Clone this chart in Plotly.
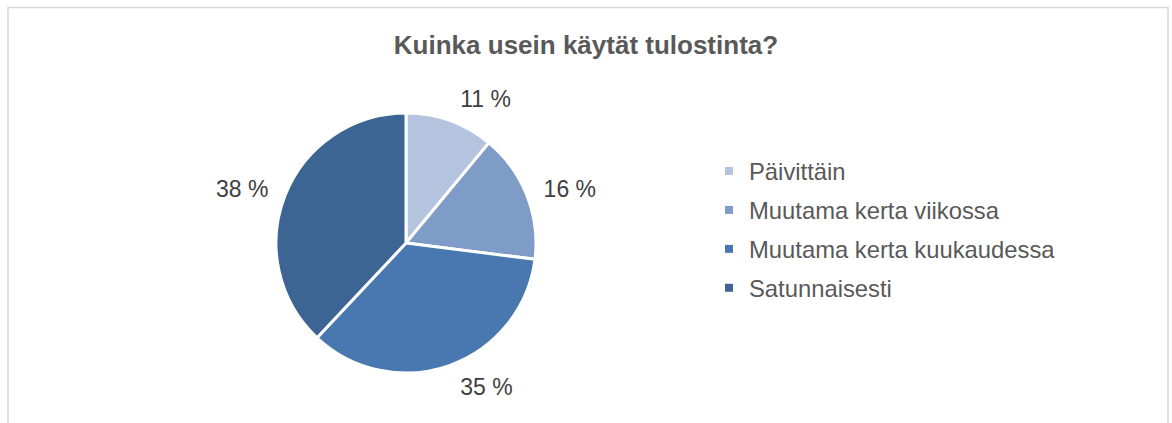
import plotly.graph_objects as go

categories = ["Päivittäin", "Muutama kerta viikossa", "Muutama kerta kuukaudessa", "Satunnaisesti"]
values = [11, 16, 35, 38]
colors = ["#B4C3DE", "#7F9CC8", "#4878AF", "#3D6593"]

W, H = 1172, 423
cx, cy, r = 406, 243, 129
label_r = r + 12
FONT = "Liberation Sans, Arial"


def dom(rad):
    return dict(x=[(cx - rad) / W, (cx + rad) / W], y=[1 - (cy + rad) / H, 1 - (cy - rad) / H])


fig = go.Figure()
# slices
fig.add_trace(go.Pie(
    labels=categories, values=values, sort=False, direction="clockwise", rotation=0,
    marker=dict(colors=colors, line=dict(color="white", width=3)),
    textinfo="none", showlegend=False, hoverinfo="label+value",
    domain=dom(r + 1),
))
# data labels (transparent ring slightly larger so labels sit further out)
fig.add_trace(go.Pie(
    labels=categories, values=values, sort=False, direction="clockwise", rotation=0,
    marker=dict(colors=["rgba(0,0,0,0)"] * len(values), line=dict(width=0)),
    texttemplate="%{value} %", textposition="outside",
    textfont=dict(size=23, color="#404040", family=FONT),
    showlegend=False, hoverinfo="skip",
    domain=dom(label_r),
))

for c, col in zip(categories, colors):
    fig.add_trace(go.Scatter(
        x=[None], y=[None], mode="markers", name=c, legendgroup=c,
        marker=dict(symbol="square", size=8, color=col),
    ))

fig.update_layout(
    width=W, height=H,
    margin=dict(l=0, r=0, t=0, b=0),
    paper_bgcolor="white", plot_bgcolor="white",
    title=dict(text="<b>Kuinka usein käytät tulostinta?</b>", x=0.5, xanchor="center",
               y=1 - 45 / H, yanchor="middle",
               font=dict(size=26, color="#595959", family=FONT)),
    xaxis=dict(visible=False), yaxis=dict(visible=False),
    legend=dict(x=709 / W, y=1 - 149 / H, xanchor="left", yanchor="top",
                font=dict(size=23.8, color="#595959", family=FONT),
                tracegroupgap=5, itemwidth=30, bgcolor="rgba(0,0,0,0)"),
    shapes=[dict(type="rect", xref="paper", yref="paper", x0=8 / W, x1=1168 / W, y0=-0.1, y1=1 - 7.5 / H,
                 line=dict(color="#D9D9D9", width=1.5), fillcolor="rgba(0,0,0,0)")],
)

fig.write_html("out.html", config={"displayModeBar": False},
               post_script="document.body.style.margin='0';")
